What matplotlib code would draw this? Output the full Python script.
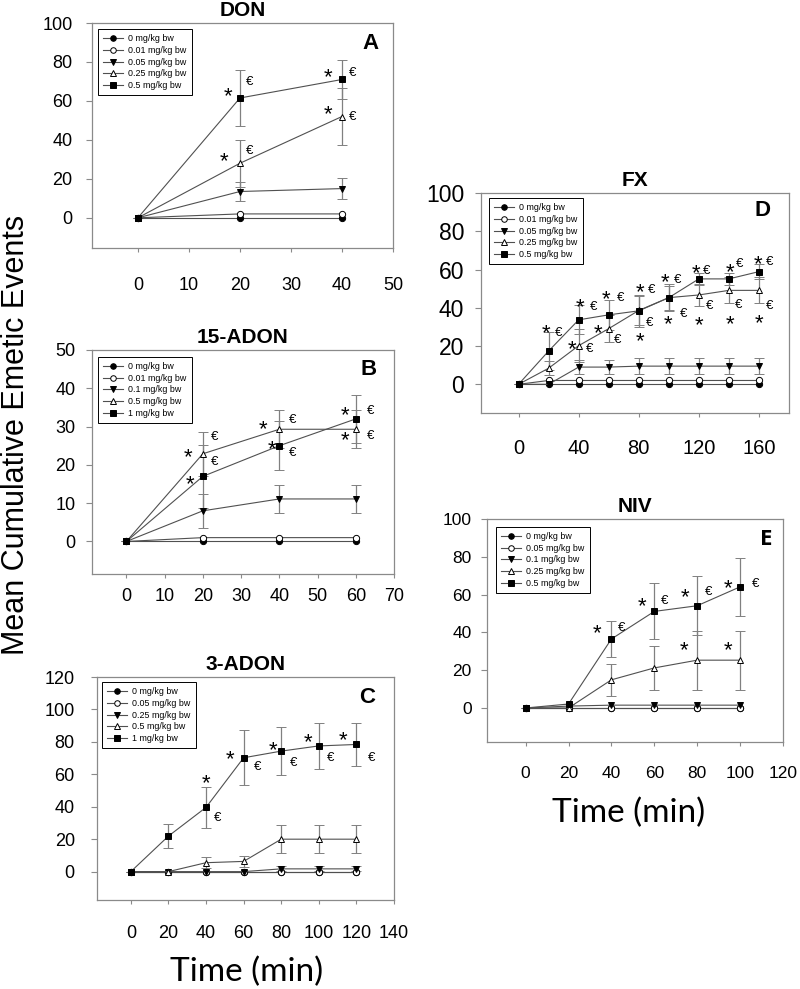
import matplotlib
matplotlib.use('Agg')
import matplotlib.pyplot as plt
from matplotlib.lines import Line2D

plt.rcParams['font.family'] = ['Liberation Sans', 'DejaVu Sans']

# ---------------- data ----------------
# Panel A: DON
don_time = [0, 20, 40]
don_doses = ['0 mg/kg bw', '0.01 mg/kg bw', '0.05 mg/kg bw', '0.25 mg/kg bw', '0.5 mg/kg bw']
don_mean = [[0, 0, 0], [0, 2, 2], [0, 13.5, 15], [0, 28, 52], [0, 61.5, 71]]
don_sem = [[0, 0, 0], [0, 0, 0], [0, 5, 5.3], [0, 12, 14.5], [0, 14.5, 10]]
# significance marks: (series, time, symbol, dx px, dy px)
don_sig = [(4, 20, '*', -12, 9), (4, 20, '€', 10, 18), (3, 20, '*', -16, 9), (3, 20, '€', 10, 14),
           (4, 40, '*', -14, 9), (4, 40, '€', 11, 8), (3, 40, '*', -14, 9), (3, 40, '€', 11, 1)]

# Panel B: 15-ADON
adon15_time = [0, 20, 40, 60]
adon15_doses = ['0 mg/kg bw', '0.01 mg/kg bw', '0.1 mg/kg bw', '0.5 mg/kg bw', '1 mg/kg bw']
adon15_mean = [[0, 0, 0, 0], [0, 1, 1, 1], [0, 8, 11.1, 11.1], [0, 22.9, 29.3, 29.3], [0, 17, 25, 32]]
adon15_sem = [[0, 0, 0, 0], [0, 0, 0, 0], [0, 4.4, 3.7, 3.7], [0, 5.7, 5, 5], [0, 8.3, 6.4, 6.2]]
adon15_sig = [(3, 20, '*', -15, 3), (3, 20, '€', 12, 19), (4, 20, '*', -13, -1), (4, 20, '€', 12, 16),
              (3, 40, '*', -16, 7), (3, 40, '€', 13, 11), (4, 40, '*', -7, 3), (4, 40, '€', 13, -6),
              (4, 60, '*', -11, 11), (4, 60, '€', 15, 10), (3, 60, '*', -11, -4), (3, 60, '€', 15, -5)]

# Panel C: 3-ADON
adon3_time = [0, 20, 40, 60, 80, 100, 120]
adon3_doses = ['0 mg/kg bw', '0.05 mg/kg bw', '0.25 mg/kg bw', '0.5 mg/kg bw', '1 mg/kg bw']
adon3_mean = [[0, 0, 0, 0, 0, 0, 0],
              [0, 0, 0, 0, 0, 0, 0],
              [0, 0, 0, 0, 1.7, 1.7, 1.7],
              [0, 0, 5.5, 6.3, 20, 20, 20],
              [0, 21.9, 39.6, 70.2, 74.3, 77.5, 78.4]]
adon3_sem = [[0, 0, 0, 0, 0, 0, 0],
             [0, 0, 0, 0, 0, 0, 0],
             [0, 0, 0, 0, 1.5, 1.5, 1.5],
             [0, 0, 3.5, 3.5, 8.7, 8.7, 8.7],
             [0, 7.5, 12.8, 17, 15, 14, 13.5]]
adon3_sig = [(4, 40, '*', 0, 31), (4, 40, '€', 12, -9), (4, 60, '*', -14, 5), (4, 60, '€', 14, -7),
             (4, 80, '*', -8, 8), (4, 80, '€', 12, -10), (4, 100, '*', -11, 11), (4, 100, '€', 12, -10),
             (4, 120, '*', -13, 11), (4, 120, '€', 15, -12)]

# Panel D: FX
fx_time = [0, 20, 40, 60, 80, 100, 120, 140, 160]
fx_doses = ['0 mg/kg bw', '0.01 mg/kg bw', '0.05 mg/kg bw', '0.25 mg/kg bw', '0.5 mg/kg bw']
fx_mean = [[0, 0, 0, 0, 0, 0, 0, 0, 0],
           [0, 2, 2, 2, 2, 2, 2, 2, 2],
           [0, 0, 9, 9, 9.5, 9.5, 9.5, 9.5, 9.5],
           [0, 8.4, 20.2, 29.1, 38.6, 45.3, 46.7, 49.1, 49.1],
           [0, 17.4, 33.7, 36.3, 38.4, 45.3, 55.1, 55.1, 58.9]]
fx_sem = [[0, 0, 0, 0, 0, 0, 0, 0, 0],
          [0, 0, 0, 0, 0, 0, 0, 0, 0],
          [0, 0, 3.5, 3.5, 4, 4, 4, 4, 4],
          [0, 3.6, 8.5, 7, 7.4, 6.2, 5.8, 6.8, 6.8],
          [0, 10, 7.5, 7.7, 8.3, 7, 3.3, 3.3, 4]]
fx_sig = [(4, 20, '*', -3, 25), (4, 20, '€', 10, 20), (4, 40, '*', 1, 20), (4, 40, '€', 15, 15),
          (4, 60, '*', -3, 23), (4, 60, '€', 12, 19), (4, 80, '*', 1, 26), (4, 80, '€', 13, 23),
          (4, 100, '*', -4, 22), (4, 100, '€', 9, 19), (4, 120, '*', -3, 13), (4, 120, '€', 8, 10),
          (4, 140, '*', 1, 14), (4, 140, '€', 11, 17), (4, 160, '*', -1, 14), (4, 160, '€', 11, 11),
          (3, 40, '*', -7, 3), (3, 40, '€', 11, -2), (3, 60, '*', -11, 2), (3, 60, '€', 9, -10),
          (3, 80, '*', 1, -24), (3, 80, '€', 11, -11), (3, 100, '*', -1, -20), (3, 100, '€', 15, -15),
          (3, 120, '*', 0, -23), (3, 120, '€', 11, -9), (3, 140, '*', 1, -27), (3, 140, '€', 10, -13),
          (3, 160, '*', 0, -26), (3, 160, '€', 11, -14)]

# Panel E: NIV
niv_time = [0, 20, 40, 60, 80, 100]
niv_doses = ['0 mg/kg bw', '0.05 mg/kg bw', '0.1 mg/kg bw', '0.25 mg/kg bw', '0.5 mg/kg bw']
niv_mean = [[0, 0, 0, 0, 0, 0],
            [0, 0, 0, 0, 0, 0],
            [0, 1, 1.5, 1.5, 1.5, 1.5],
            [0, 0, 14.9, 21.2, 25.3, 25.3],
            [0, 2.1, 36.5, 51.1, 54.1, 64.1]]
niv_sem = [[0, 0, 0, 0, 0, 0],
           [0, 0, 0, 0, 0, 0],
           [0, 0, 0, 0, 0, 0],
           [0, 0, 8.4, 11.6, 15.6, 15.6],
           [0, 0, 9.3, 14.8, 15.5, 15.3]]
niv_sig = [(4, 40, '*', -14, 13), (4, 40, '€', 10, 13), (4, 60, '*', -12, 12), (4, 60, '€', 10, 12),
           (4, 80, '*', -12, 15), (4, 80, '€', 11, 15), (4, 100, '*', -12, 6), (4, 100, '€', 15, 5),
           (3, 80, '*', -13, 17), (3, 100, '*', -12, 17)]

# ---------------- styling ----------------
W, H = 800, 989
markers = ['o', 'o', 'v', '^', 's']
faces = ['black', 'white', 'black', 'white', 'black']
LINE = '#505050'
ERR = '#808080'
SPINE = '#8a8a8a'
PX = 0.72  # points per pixel at dpi 100
STAR_FS = 16
EURO_FS = 9.5

fig = plt.figure(figsize=(W / 100, H / 100), dpi=100)


def rect(l, t, r, b):
    return [l / W, 1 - b / H, (r - l) / W, (b - t) / H]


def panel(box, title, letter, time, doses, means, sems, sig, xlim, ylim, xticks, yticks,
          leg_xy, xfs=13, yfs=13, xpad=16, ypad=6, letter_xy=(0.92, 0.91), letter_family=None):
    ax = fig.add_axes(rect(*box))
    for i in range(len(doses)):
        ax.errorbar(time, means[i], yerr=sems[i] if any(sems[i]) else None,
                    color=LINE, lw=0.8, ecolor=ERR, elinewidth=0.9, capsize=3.5, capthick=0.9,
                    marker=markers[i], ms=4.5, mfc=faces[i], mec='black', mew=0.7, zorder=3)
    for (si, t, sym, dx, dy) in sig:
        y = means[si][time.index(t)]
        if sym == '*':
            ax.annotate('*', (t, y), xytext=(dx * PX, dy * PX - 0.58 * STAR_FS), textcoords='offset points',
                        ha='center', va='baseline', fontsize=STAR_FS, zorder=5)
        else:
            ax.annotate('€', (t, y), xytext=(dx * PX, dy * PX - 0.36 * EURO_FS), textcoords='offset points',
                        ha='center', va='baseline', fontsize=EURO_FS, zorder=5)
    ax.set_xlim(*xlim)
    ax.set_ylim(*ylim)
    ax.set_xticks(xticks)
    ax.set_yticks(yticks)
    ax.tick_params(axis='x', labelsize=xfs, direction='out', length=3, width=0.8, color=SPINE, pad=xpad)
    ax.tick_params(axis='y', labelsize=yfs, direction='out', length=4, width=0.8, color=SPINE, pad=ypad)
    for s in ax.spines.values():
        s.set_color(SPINE)
        s.set_linewidth(0.9)
    ax.set_title(title, fontsize=15, fontweight='bold', pad=5)
    kw = dict(fontsize=16, fontweight='bold', ha='center', va='center', transform=ax.transAxes)
    if letter_family:
        kw['family'] = letter_family
    ax.text(letter_xy[0], letter_xy[1], letter, **kw)
    handles = [Line2D([], [], color=LINE, lw=0.8, marker=markers[i], ms=4, mfc=faces[i],
                      mec='black', mew=0.7) for i in range(len(doses))]
    leg = ax.legend(handles, doses, loc='upper left', bbox_to_anchor=leg_xy, borderaxespad=0,
                    fontsize=6.4, frameon=True, fancybox=False, edgecolor='black', framealpha=1,
                    handlelength=2.2, handletextpad=0.6, labelspacing=0.3, borderpad=0.6)
    leg.get_frame().set_linewidth(0.7)
    return ax


panel((92, 23, 393, 248), 'DON', 'A', don_time, don_doses, don_mean, don_sem, don_sig,
      (-9, 50), (-15.5, 100), range(0, 51, 10), range(0, 101, 20), (0.02, 0.973),
      xpad=18, ypad=10, letter_xy=(0.924, 0.911))
panel((92, 350, 394, 574), '15-ADON', 'B', adon15_time, adon15_doses, adon15_mean, adon15_sem, adon15_sig,
      (-9, 70), (-8.5, 50), range(0, 71, 10), range(0, 51, 10), (0.02, 0.97),
      xpad=7, ypad=8, letter_xy=(0.917, 0.915))
panel((97, 677, 394, 900), '3-ADON', 'C', adon3_time, adon3_doses, adon3_mean, adon3_sem, adon3_sig,
      (-18, 140), (-17.5, 120), range(0, 141, 20), range(0, 121, 20), (0.017, 0.977),
      xpad=15, ypad=12, letter_xy=(0.909, 0.91))
panel((481, 193, 789, 413), 'FX', 'D', fx_time, fx_doses, fx_mean, fx_sem, fx_sig,
      (-25, 180), (-15, 100), range(0, 161, 40), range(0, 101, 20), (0.026, 0.977),
      xfs=14.5, yfs=16.5, xpad=16, ypad=8, letter_xy=(0.915, 0.92))
panel((487, 519, 783, 742), 'NIV', 'E', niv_time, niv_doses, niv_mean, niv_sem, niv_sig,
      (-18, 120), (-18, 100), range(0, 121, 20), range(0, 101, 20), (0.03, 0.965),
      xfs=12.5, yfs=12.5, xpad=14, ypad=7, letter_xy=(0.945, 0.91), letter_family='Open Sans')

fig.text(16 / W, 1 - 435 / H, 'Mean Cumulative Emetic Events', rotation=90, fontsize=22,
         ha='center', va='center')
fig.text(247 / W, 1 - 972 / H, 'Time (min)', fontsize=24, family='Lato', ha='center', va='center')
fig.text(629 / W, 1 - 813 / H, 'Time (min)', fontsize=24, family='Lato', ha='center', va='center')

fig.savefig('out.png', dpi=100)
